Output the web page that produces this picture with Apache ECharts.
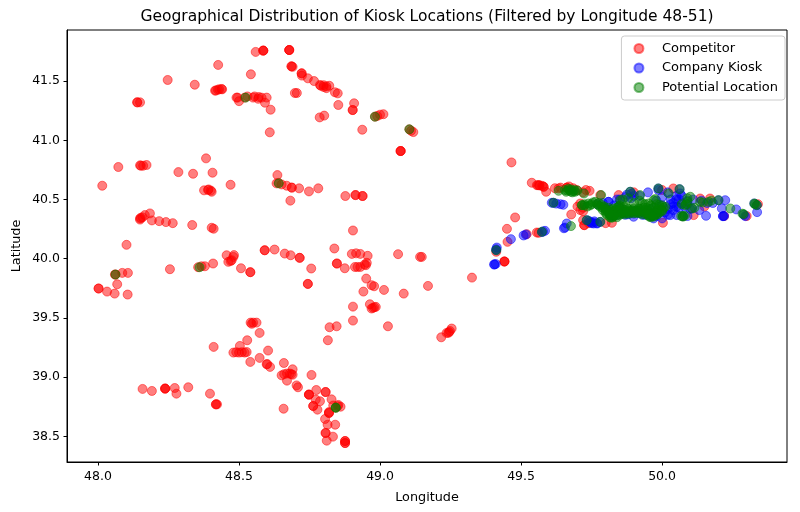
<!DOCTYPE html>
<html><head><meta charset="utf-8">
<script src="https://cdn.jsdelivr.net/npm/echarts@6/dist/echarts.min.js"></script>
<style>html,body{margin:0;padding:0;background:#fff}#c{width:800px;height:512px}</style>
</head><body><div id="c"></div>
<script>
const xTicks=[48.0,48.5,49.0,49.5,50.0];
const yTicks=[38.5,39.0,39.5,40.0,40.5,41.0,41.5];
const seriesNames=['Competitor','Company Kiosk','Potential Location'];
const competitor=[
[48.559,41.746],[48.586,41.757],[48.586,41.757],[48.586,41.757],[48.678,41.762],[48.678,41.762],[48.678,41.762],[48.686,41.624],[48.686,41.624],[48.69,41.62],[48.722,41.565],[48.722,41.565],[48.723,41.546],[48.744,41.523],[48.766,41.5],[48.787,41.467],[48.79,41.46],[48.80,41.45],[48.80,41.465],[48.81,41.44],[48.81,41.455],[48.82,41.46],[48.84,41.405],[48.85,41.396],[48.852,41.298],[48.908,41.312],[48.903,41.255],[48.903,41.255],[48.786,41.193],[48.802,41.208],[48.937,41.089],[48.982,41.199],[48.99,41.205],[49.0,41.216],[49.012,41.22],[49.104,41.092],[49.11,41.08],[49.118,41.069],[49.073,40.909],[49.073,40.909],[49.073,40.909],[48.698,41.399],[48.705,41.399],[48.542,41.557],[48.426,41.636],[48.343,41.469],[48.247,41.509],[48.139,41.32],[48.139,41.32],[48.149,41.32],
[48.415,41.419],[48.418,41.42],[48.425,41.427],[48.43,41.43],[48.438,41.433],[48.44,41.43],[48.491,41.36],[48.495,41.36],[48.50,41.33],[48.52,41.36],[48.53,41.37],[48.55,41.36],[48.555,41.37],[48.57,41.365],[48.58,41.36],[48.568,41.35],[48.598,41.36],[48.592,41.317],[48.612,41.258],[48.609,41.067],
[48.383,40.847],[48.072,40.774],[48.149,40.788],[48.152,40.785],[48.16,40.785],[48.172,40.791],[48.285,40.731],[48.337,40.717],[48.406,40.726],[48.015,40.616],[48.47,40.624],[48.376,40.577],[48.39,40.58],[48.392,40.585],[48.40,40.575],[48.403,40.565],[48.636,40.706],[48.633,40.636],[48.64,40.64],[48.651,40.627],[48.669,40.616],[48.687,40.6],[48.687,40.6],[48.713,40.594],[48.748,40.568],[48.781,40.594],[48.682,40.49],[48.877,40.529],[48.913,40.537],[48.913,40.537],[48.938,40.529],[48.938,40.529],[48.904,40.238],
[48.149,40.34],[48.149,40.33],[48.152,40.345],[48.158,40.35],[48.166,40.368],[48.184,40.382],[48.191,40.323],[48.217,40.317],[48.241,40.309],[48.265,40.30],[48.334,40.284],[48.403,40.261],[48.41,40.253],[48.101,40.117],
[48.456,40.029],[48.48,40.015],[48.482,40.03],[48.462,39.973],[48.474,39.987],[48.47,39.98],[48.591,40.071],[48.591,40.071],[48.626,40.077],[48.662,40.043],[48.683,40.029],[48.715,40.007],[48.715,40.007],[48.756,39.917],[48.54,39.886],[48.54,39.886],[48.507,39.919],[48.408,39.959],[48.367,39.936],[48.379,39.936],[48.355,39.928],[48.255,39.911],[48.106,39.88],[48.086,39.88],[48.062,39.866],[48.06,39.866],[48.068,39.784],[48.002,39.748],[48.002,39.748],[48.032,39.722],[48.059,39.705],[48.105,39.697],
[48.838,40.086],[48.847,39.959],[48.847,39.959],[48.875,39.919],[48.744,39.787],[48.744,39.787],[48.9,40.04],[48.915,40.045],[48.93,40.04],[48.956,40.024],[48.911,39.93],[48.92,39.93],[48.93,39.93],[48.95,39.945],[48.953,39.965],[48.945,39.95],[49.064,40.038],[49.142,40.015],[49.148,40.015],[49.326,39.84],[48.951,39.832],[48.97,39.776],[48.979,39.767],[49.014,39.736],[48.941,39.722],[49.084,39.705],[49.17,39.77],
[48.904,39.595],[48.964,39.615],[48.97,39.579],[48.975,39.585],[48.98,39.59],[48.985,39.593],[48.904,39.477],[49.028,39.429],[48.846,39.429],[48.821,39.421],[48.815,39.311],[49.217,39.336],[49.236,39.373],[49.248,39.39],[49.254,39.41],[49.242,39.373],[49.245,39.38],
[48.541,39.46],[48.545,39.45],[48.55,39.46],[48.562,39.46],[48.573,39.373],[48.41,39.255],[48.529,39.311],[48.503,39.263],[48.48,39.207],[48.49,39.21],[48.50,39.207],[48.51,39.21],[48.52,39.207],[48.527,39.212],[48.603,39.224],[48.573,39.162],[48.54,39.128],[48.598,39.108],[48.6,39.11],[48.61,39.086],[48.659,39.119],[48.69,39.066],[48.651,39.015],[48.66,39.025],[48.67,39.03],[48.68,39.03],[48.685,39.025],[48.69,39.02],[48.67,38.97],[48.757,39.018],
[48.704,38.93],[48.709,38.914],[48.774,38.891],[48.807,38.874],[48.807,38.874],[48.748,38.852],[48.748,38.852],[48.748,38.852],[48.828,38.812],[48.772,38.81],[48.787,38.796],[48.763,38.756],[48.763,38.756],[48.778,38.725],[48.658,38.733],[48.834,38.76],[48.85,38.755],[48.852,38.765],[48.86,38.75],[48.843,38.742],[48.819,38.697],[48.819,38.697],[48.819,38.705],[48.805,38.646],[48.814,38.598],[48.841,38.598],[48.807,38.528],[48.807,38.528],[48.833,38.497],[48.811,38.463],[48.876,38.46],[48.876,38.46],[48.876,38.443],[48.876,38.443],
[48.158,38.90],[48.191,38.883],[48.238,38.903],[48.238,38.903],[48.238,38.903],[48.272,38.908],[48.278,38.86],[48.32,38.914],[48.397,38.86],[48.418,38.77],[48.418,38.77],[48.422,38.77],
[49.466,40.813],[49.479,40.348],[49.45,40.252],[49.452,40.142],[49.412,40.058],[49.441,39.976],[49.441,39.976],[49.441,39.976],[49.556,40.221],[49.52,40.207],[49.538,40.641],[49.556,40.621],[49.56,40.62],[49.565,40.62],[49.565,40.62],[49.575,40.615],[49.58,40.607],[49.58,40.607],[49.589,40.565],[49.62,40.595],[49.633,40.593],[49.64,40.60],[49.662,40.6],[49.662,40.6],[49.67,40.61],[49.685,40.595],[49.698,40.579],[49.72,40.56],[49.73,40.58],[49.743,40.573],[49.781,40.537],[49.71,40.466],[49.70,40.44],[49.71,40.41],[49.72,40.43],[49.72,40.40],[49.678,40.373],[49.562,40.218],[49.724,40.283],[49.724,40.283],[49.72,40.325],[49.74,40.30],[49.822,40.303],[49.846,40.537],[49.80,40.30],[50.003,40.303],[50.04,40.593],[50.112,40.368],[50.17,40.508],[50.135,40.508],[49.9,40.56],[50.22,40.36],[50.30,40.36],[50.34,40.46],[50.0,40.58],[50.15,40.44]
];
const company=[
[49.405,39.951],[49.405,39.951],[49.41,39.955],[49.414,40.094],[49.412,40.072],[49.412,40.08],[49.464,40.165],[49.509,40.196],[49.517,40.204],[49.585,40.235],[49.574,40.224],[49.578,40.23],[49.656,40.263],[49.652,40.257],[49.662,40.297],[49.609,40.472],[49.615,40.472],[49.625,40.465],[49.64,40.46],[49.65,40.455],[49.733,40.325],[49.74,40.32],[49.75,40.30],[49.757,40.297],[49.769,40.297],[49.78,40.31],[49.76,40.315],[49.745,40.31],[49.755,40.305],[49.77,40.30],
[49.81,40.48],[49.81,40.48],[49.79,40.47],[49.83,40.45],[49.85,40.43],[49.85,40.50],[49.887,40.565],[49.892,40.55],[49.875,40.54],[49.90,40.53],[49.92,40.53],[49.899,40.354],[49.87,40.37],[49.93,40.37],[49.97,40.34],[49.96,40.36],[50.0,40.34],[50.02,40.37],[50.029,40.368],[50.052,40.368],[50.064,40.551],[50.062,40.587],[50.052,40.438],[50.04,40.47],[50.03,40.5],[50.06,40.5],[50.07,40.47],[50.08,40.44],[50.09,40.46],[50.1,40.42],[50.106,40.424],[50.11,40.50],[50.132,40.41],[50.074,40.359],[50.09,40.36],[50.14,40.49],[50.16,40.47],[50.18,40.47],[50.2,40.494],[50.224,40.494],[50.212,40.424],[50.216,40.359],[50.216,40.359],[50.22,40.36],[50.156,40.362],[50.263,40.416],[50.295,40.359],[50.29,40.37],[50.337,40.393],[50.327,40.466],[50.336,40.452],[49.95,40.56],[49.987,40.593],[49.987,40.58],[50.02,40.56],[50.0,40.52],[49.98,40.49],[50.0,40.45],[50.02,40.42],[49.96,40.42],[49.9,40.40],[49.83,40.39],[49.8,40.42],[49.77,40.46],
[49.82,40.36],[49.84,40.37],[49.86,40.38],[49.88,40.375],[49.90,40.38],[49.92,40.385],[49.94,40.37],[49.98,40.36],[50.01,40.39],[50.04,40.41],[50.05,40.50],[50.07,40.53],[50.09,40.49],[50.04,40.44],[50.06,40.43],[50.03,40.46],[50.05,40.53],[49.84,40.50],[49.87,40.52],[49.89,40.51]
];
const potential=[
[48.523,41.36],[48.982,41.199],[49.104,41.092],[48.641,40.636],[48.36,39.928],[48.062,39.866],[48.843,38.742],[48.843,38.742],
[49.412,40.072],[49.574,40.227],[49.615,40.472],[49.677,40.275],[49.733,40.325],[49.781,40.311],[49.633,40.573],[49.655,40.58],[49.665,40.575],[49.677,40.585],[49.677,40.565],[49.685,40.57],[49.692,40.565],[49.70,40.575],[49.723,40.55],[49.784,40.537],[49.668,40.59],[49.672,40.578],[49.682,40.56],[49.69,40.58],[49.66,40.565],
[49.716,40.452],[49.716,40.452],[49.725,40.45],[49.725,40.46],[49.735,40.44],[49.739,40.466],[49.745,40.45],[49.75,40.46],[49.755,40.475],[49.763,40.48],[49.77,40.46],[49.775,40.45],[49.775,40.47],[49.781,40.438],[49.785,40.455],[49.79,40.43],[49.795,40.44],[49.80,40.42],[49.80,40.40],[49.804,40.41],[49.81,40.39],[49.81,40.43],[49.816,40.368],[49.816,40.368],[49.82,40.38],[49.82,40.41],[49.825,40.40],[49.825,40.375],[49.828,40.424],[49.83,40.39],[49.834,40.382],[49.835,40.41],[49.84,40.43],[49.84,40.39],[49.846,40.41],[49.846,40.44],[49.85,40.45],[49.85,40.42],[49.852,40.494],[49.855,40.40],[49.86,40.42],[49.86,40.39],[49.865,40.44],[49.869,40.41],[49.875,40.40],[49.875,40.43],[49.88,40.42],[49.885,40.40],[49.893,40.41],[49.895,40.40],[49.90,40.425],[49.905,40.40],[49.91,40.41],[49.915,40.40],[49.917,40.424],[49.92,40.405],[49.925,40.42],[49.93,40.395],[49.935,40.43],[49.94,40.41],[49.945,40.43],[49.945,40.39],[49.95,40.40],[49.955,40.38],[49.955,40.42],[49.964,40.368],[49.964,40.368],[49.965,40.38],[49.97,40.39],[49.97,40.43],[49.975,40.41],[49.982,40.396],[49.98,40.38],[49.985,40.42],[49.99,40.41],[49.993,40.438],[50.0,40.45],[50.005,40.43],[50.011,40.438],[49.952,40.466],[49.96,40.45],[49.97,40.494],[49.98,40.46],[49.99,40.455],[49.93,40.47],[49.94,40.46],[49.92,40.49],[49.922,40.537],[49.887,40.565],[49.86,40.50],[49.88,40.51],[49.90,40.47],[49.976,40.503],[49.987,40.593],[50.023,40.551],[50.062,40.587],[50.10,40.523],[50.09,40.51],[50.082,40.452],[50.085,40.46],[50.09,40.48],[50.07,40.46],[50.106,40.424],[50.115,40.43],[50.074,40.359],[50.08,40.362],[50.068,40.36],[50.074,40.355],[50.135,40.48],[50.145,40.475],[50.165,40.48],[50.175,40.49],[50.2,40.494],[50.242,40.424],[50.289,40.376],[50.285,40.38],[50.327,40.466],[50.336,40.452],[50.33,40.46],
[49.79,40.41],[49.80,40.385],[49.805,40.37],[49.815,40.35],[49.82,40.345],[49.825,40.35],[49.83,40.36],[49.84,40.365],[49.85,40.37],[49.855,40.38],[49.865,40.375],[49.875,40.38],[49.885,40.38],[49.89,40.39],[49.90,40.385],[49.91,40.385],[49.92,40.385],[49.93,40.375],[49.94,40.38],[49.95,40.365],[49.955,40.355],[49.96,40.35],[49.97,40.355],[49.975,40.365],[49.985,40.375],[49.99,40.39],[50.0,40.41],[50.0,40.40],[49.95,40.375],[49.91,40.395],[49.87,40.39],[49.83,40.37],[49.815,40.38],[49.84,40.35],[49.965,40.36]
];
const pointSets=[competitor,company,potential];
const colors=['#ff0000','#0000ff','#008000'];
const chart=echarts.init(document.getElementById('c'),null,{renderer:'canvas'});
const font='"DejaVu Sans"';
chart.setOption({
  animation:false,
  backgroundColor:'#fff',
  textStyle:{fontFamily:font,color:'#000'},
  title:{text:'Geographical Distribution of Kiosk Locations (Filtered by Longitude 48-51)',left:427,textAlign:'center',top:9,padding:0,
    textStyle:{fontFamily:font,fontSize:15.5,fontWeight:'normal',color:'#000'}},
  grid:{left:67,right:13,top:30,bottom:50,show:true,borderColor:'#000',borderWidth:1,backgroundColor:'#fff'},
  legend:{orient:'vertical',right:15,top:36,backgroundColor:'#fff',borderColor:'#ccc',borderWidth:1,borderRadius:3,
    padding:[6,7,6,12],itemGap:6.5,itemWidth:36,itemHeight:9,icon:'circle',data:seriesNames,
    textStyle:{fontFamily:font,fontSize:13,color:'#000'}},
  xAxis:{type:'value',min:47.89,max:50.443,name:'Longitude',nameLocation:'middle',nameGap:29,nameMoveOverlap:false,
    nameTextStyle:{fontFamily:font,fontSize:12.8,color:'#000'},
    splitLine:{show:false},
    axisLine:{onZero:false,lineStyle:{color:'#000',width:1}},
    axisTick:{customValues:xTicks,length:3.5,lineStyle:{color:'#000'}},
    axisLabel:{customValues:xTicks,formatter:v=>v.toFixed(1),fontFamily:font,fontSize:12.5,color:'#000',margin:8}},
  yAxis:{type:'value',min:38.283,max:41.931,name:'Latitude',nameLocation:'middle',nameGap:44,nameMoveOverlap:false,
    nameTextStyle:{fontFamily:font,fontSize:12.8,color:'#000'},
    splitLine:{show:false},
    axisLine:{onZero:false,lineStyle:{color:'#000',width:1}},
    axisTick:{customValues:yTicks,length:3.5,lineStyle:{color:'#000'}},
    axisLabel:{customValues:yTicks,formatter:v=>v.toFixed(1),fontFamily:font,fontSize:12.5,color:'#000',margin:7}},
  series:seriesNames.map((n,i)=>({
    name:n,type:'scatter',data:pointSets[i],symbol:'circle',symbolSize:9,z:2+i,silent:true,
    itemStyle:{color:colors[i],opacity:0.5,borderColor:colors[i],borderWidth:1},
    emphasis:{disabled:true}
  }))
});
</script></body></html>
